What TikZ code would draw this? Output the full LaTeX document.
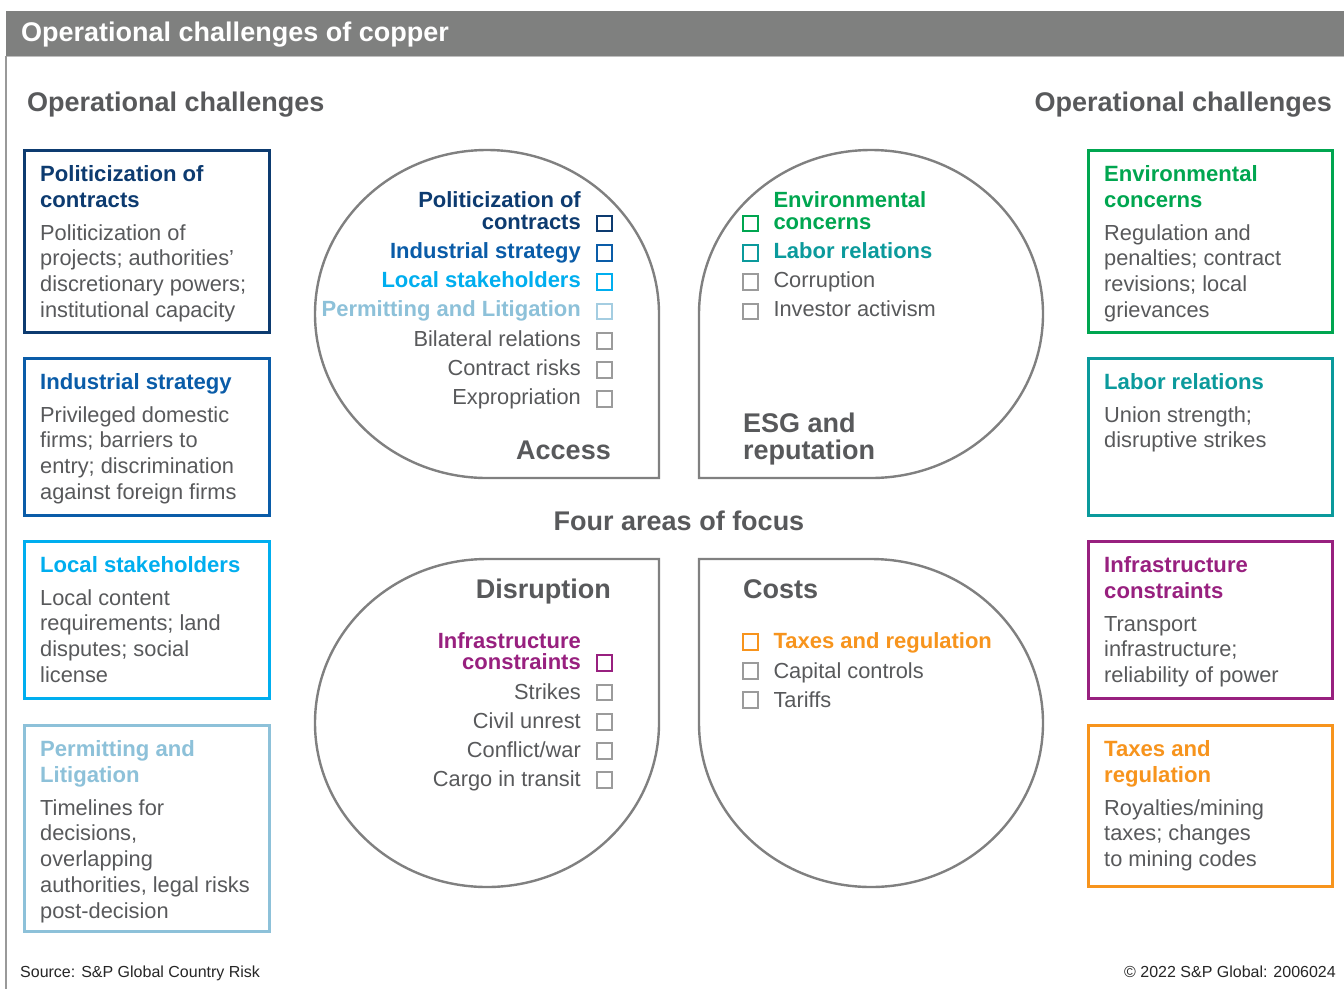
\documentclass[tikz,border=0pt]{standalone}
\usepackage{fontspec}
\setmainfont{Liberation Sans}
\definecolor{cNavy}{HTML}{0D3B70}
\definecolor{cBlue}{HTML}{0A5CA8}
\definecolor{cCyan}{HTML}{00AEEF}
\definecolor{cLtBlue}{HTML}{8DC1D9}
\definecolor{cGreen}{HTML}{00A650}
\definecolor{cTeal}{HTML}{0B9A9C}
\definecolor{cPurple}{HTML}{98207F}
\definecolor{cOrange}{HTML}{F7941D}
\definecolor{txt}{HTML}{58595B}
\definecolor{hdr}{HTML}{7F807F}
\definecolor{shpgray}{HTML}{808080}
\definecolor{chkgray}{HTML}{9B9B9B}
\newcommand\mylines[6]{\foreach \tx [count=\i] in {#6} {\node[#4] (#1\i) at (#2, {#3+#5*(\i-1)}) {\tx};}}
\begin{document}
\begin{tikzpicture}[x=1pt,y=-1pt,
  bt/.style={font=\fontsize{22.1}{26}\selectfont\bfseries, inner sep=0pt, anchor=base west},
  bb/.style={font=\fontsize{21.8}{26}\selectfont, text=txt, inner sep=0pt, anchor=base west},
  ibe/.style={font=\fontsize{22}{26}\selectfont\bfseries, inner sep=0pt, anchor=base east},
  ire/.style={font=\fontsize{21.8}{26}\selectfont, text=txt, inner sep=0pt, anchor=base east},
  ibw/.style={font=\fontsize{22}{26}\selectfont\bfseries, inner sep=0pt, anchor=base west},
  irw/.style={font=\fontsize{21.8}{26}\selectfont, text=txt, inner sep=0pt, anchor=base west},
  big/.style={font=\fontsize{27}{30}\selectfont\bfseries, text=txt, inner sep=0pt},
  chk/.style={draw=chkgray, line width=2pt, minimum size=15.8pt, inner sep=0pt},
  cbox/.style={line width=2.6pt},
  shp/.style={draw=shpgray, line width=2.4pt},
  foot/.style={font=\fontsize{16}{18}\selectfont, text=black!85, inner sep=0pt}
]
\useasboundingbox (0,0) rectangle (1344,989);
\fill[white] (0,0) rectangle (1344,989);
% header
\fill[hdr] (5.5,11) rectangle (1344,56);
\draw[black!25, line width=1.2pt] (5.5,56.6) -- (1344,56.6);
\draw[black!40, line width=1.5pt] (6,56) -- (6,989);
\node[font=\fontsize{27}{30}\selectfont\bfseries, text=white, inner sep=0pt, anchor=base west] (title) at (21,41.7) {Operational challenges of copper};
\node[big, anchor=base west] (hl) at (27,111.7) {Operational challenges};
\node[big, anchor=base east] (hr) at (1332,111.7) {Operational challenges};

% left boxes
\draw[cbox, draw=cNavy] (24.7,150.7) rectangle (269.3,332.7);
\mylines{l1t}{40}{181}{bt,text=cNavy}{26}{Politicization of, contracts}
\mylines{l1b}{40}{240}{bb}{25.8}{Politicization of, projects; authorities’, discretionary powers;, institutional capacity}
\draw[cbox, draw=cBlue] (24.7,358.7) rectangle (269.3,515.3);
\mylines{l2t}{40}{389}{bt,text=cBlue}{26}{Industrial strategy}
\mylines{l2b}{40}{422}{bb}{25.8}{Privileged domestic, firms; barriers to, entry; discrimination, against foreign firms}
\draw[cbox, draw=cCyan] (24.7,541.7) rectangle (269.3,698.7);
\mylines{l3t}{40}{572}{bt,text=cCyan}{26}{Local stakeholders}
\mylines{l3b}{40}{605}{bb}{25.8}{Local content, requirements; land, disputes; social, license}
\draw[cbox, draw=cLtBlue] (24.7,725.7) rectangle (269.3,931.3);
\mylines{l4t}{40}{756}{bt,text=cLtBlue}{26}{Permitting and, Litigation}
\mylines{l4b}{40}{815}{bb}{25.8}{Timelines for, {decisions,}, overlapping, {authorities, legal risks}, post-decision}

% right boxes
\draw[cbox, draw=cGreen] (1088.7,150.7) rectangle (1332.7,332.7);
\mylines{r1t}{1104}{181}{bt,text=cGreen}{26}{Environmental, concerns}
\mylines{r1b}{1104}{240}{bb}{25.8}{Regulation and, penalties; contract, revisions; local, grievances}
\draw[cbox, draw=cTeal] (1088.7,358.7) rectangle (1332.7,515.3);
\mylines{r2t}{1104}{389}{bt,text=cTeal}{26}{Labor relations}
\mylines{r2b}{1104}{422}{bb}{25.8}{Union strength;, disruptive strikes}
\draw[cbox, draw=cPurple] (1088.7,541.7) rectangle (1332.7,698.7);
\mylines{r3t}{1104}{572}{bt,text=cPurple}{26}{Infrastructure, constraints}
\mylines{r3b}{1104}{631}{bb}{25.8}{Transport, infrastructure;, reliability of power}
\draw[cbox, draw=cOrange] (1088.7,725.7) rectangle (1332.7,886.3);
\mylines{r4t}{1104}{756}{bt,text=cOrange}{26}{Taxes and, regulation}
\mylines{r4b}{1104}{815}{bb}{25.8}{Royalties/mining, taxes; changes, to mining codes}

% four shapes
\draw[shp] (659,314) -- (659,478) -- (487,478) arc[start angle=90, end angle=360, x radius=172, y radius=164];
\draw[shp] (699,314) -- (699,478) -- (871,478) arc[start angle=90, end angle=-180, x radius=172, y radius=164];
\draw[shp] (487,559) -- (659,559) -- (659,723) arc[start angle=0, end angle=270, x radius=172, y radius=164];
\draw[shp] (871,559) -- (699,559) -- (699,723) arc[start angle=180, end angle=-90, x radius=172, y radius=164];

% Access
\node[ibe, text=cNavy] (a0) at (581,207.5) {Politicization of};
\node[ibe, text=cNavy] (a1) at (581,229) {contracts};
\node[ibe, text=cBlue] (a2) at (581,258.3) {Industrial strategy};
\node[ibe, text=cCyan] (a3) at (581,287.6) {Local stakeholders};
\node[ibe, text=cLtBlue] (a4) at (581,316.9) {Permitting and Litigation};
\node[ire] (a5) at (581,346.2) {Bilateral relations};
\node[ire] (a6) at (581,375.5) {Contract risks};
\node[ire] (a7) at (581,404.8) {Expropriation};
\node[chk, draw=cNavy] (ac1) at (604.5,223.5) {};
\node[chk, draw=cBlue] (ac2) at (604.5,252.8) {};
\node[chk, draw=cCyan] (ac3) at (604.5,282.1) {};
\node[chk, draw=cLtBlue!80] (ac4) at (604.5,311.4) {};
\node[chk] (ac5) at (604.5,340.7) {};
\node[chk] (ac6) at (604.5,370) {};
\node[chk] (ac7) at (604.5,399.3) {};
\node[big, anchor=base east] (access) at (611,459) {Access};

% ESG
\node[ibw, text=cGreen] (e0) at (773.3,207.5) {Environmental};
\node[ibw, text=cGreen] (e1) at (773.3,229) {concerns};
\node[ibw, text=cTeal] (e2) at (773.3,258.3) {Labor relations};
\node[irw] (e3) at (773.3,287.6) {Corruption};
\node[irw] (e4) at (773.3,316.9) {Investor activism};
\node[chk, draw=cGreen] (ec1) at (750.5,223.5) {};
\node[chk, draw=cTeal] (ec2) at (750.5,252.8) {};
\node[chk] (ec3) at (750.5,282.1) {};
\node[chk] (ec4) at (750.5,311.4) {};
\node[big, anchor=base west] (esg1) at (743,432.7) {ESG and};
\node[big, anchor=base west] (esg2) at (743,459) {reputation};

\node[big, anchor=base] (focus) at (679,530) {Four areas of focus};

% Disruption
\node[big, anchor=base east] (disr) at (611,598.3) {Disruption};
\node[ibe, text=cPurple] (d0) at (581,648.3) {Infrastructure};
\node[ibe, text=cPurple] (d1) at (581,669.8) {constraints};
\node[ire] (d2) at (581,699) {Strikes};
\node[ire] (d3) at (581,728.2) {Civil unrest};
\node[ire] (d4) at (581,757.4) {Conflict/war};
\node[ire] (d5) at (581,786.6) {Cargo in transit};
\node[chk, draw=cPurple] (dc1) at (604.5,663.3) {};
\node[chk] (dc2) at (604.5,692.5) {};
\node[chk] (dc3) at (604.5,721.7) {};
\node[chk] (dc4) at (604.5,750.9) {};
\node[chk] (dc5) at (604.5,780.1) {};

% Costs
\node[big, anchor=base west] (costs) at (743,598.3) {Costs};
\node[ibw, text=cOrange] (c1) at (773.3,648.7) {Taxes and regulation};
\node[irw] (c2) at (773.3,678) {Capital controls};
\node[irw] (c3) at (773.3,707.3) {Tariffs};
\node[chk, draw=cOrange] (cc1) at (750.5,641.7) {};
\node[chk] (cc2) at (750.5,671) {};
\node[chk] (cc3) at (750.5,700.3) {};

% footer
\node[foot, anchor=base west] (src) at (20,977) {Source: S\&P Global Country Risk};
\node[foot, anchor=base east] (copy) at (1336,977) {© 2022 S\&P Global: 2006024};
\end{tikzpicture}
\end{document}
